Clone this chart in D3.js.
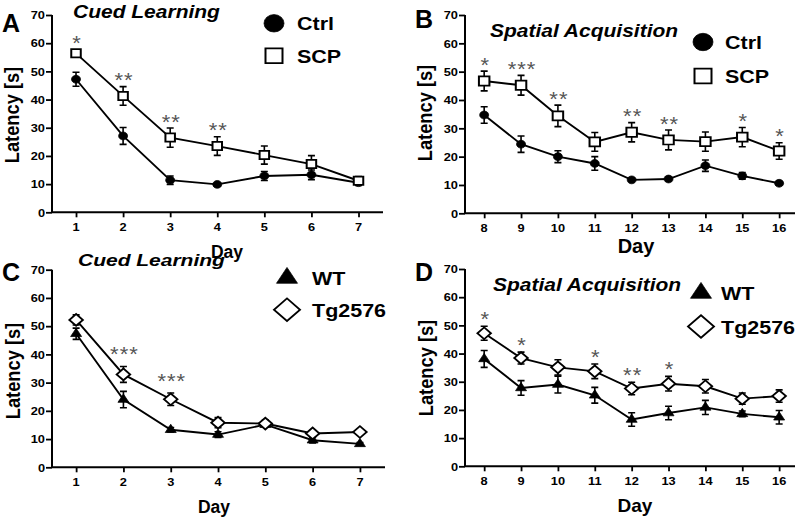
<!DOCTYPE html>
<html><head><meta charset="utf-8">
<script src="https://cdn.jsdelivr.net/npm/d3@7/dist/d3.min.js"></script>
<style>body{margin:0;background:#fff}svg{display:block}</style>
</head><body>
<svg id="chart" width="800" height="517"></svg>
<script>
// ---------- data ----------
const daysCued = [1, 2, 3, 4, 5, 6, 7];
const daysSpatial = [8, 9, 10, 11, 12, 13, 14, 15, 16];
const yTicks = [0, 10, 20, 30, 40, 50, 60, 70];

const ctrlCued = [47.2, 27.1, 11.4, 9.9, 12.9, 13.3, 10.5];
const ctrlCuedErr = [2.5, 3.0, 1.5, 0.6, 1.6, 1.7, 1.0];
const scpCued = [56.4, 41.3, 26.5, 23.5, 20.3, 17.1, 11.2];
const scpCuedErr = [1.2, 3.3, 3.4, 3.3, 3.2, 3.0, 1.5];
const starsA = ['*', '**', '**', '**', '', '', ''];

const ctrlSpatial = [34.7, 24.4, 20.0, 17.6, 11.8, 12.1, 16.8, 13.2, 10.6];
const ctrlSpatialErr = [2.9, 2.9, 2.1, 2.4, 0.5, 0.6, 2.0, 1.2, 0.6];
const scpSpatial = [46.7, 45.2, 34.4, 25.2, 28.6, 25.9, 25.3, 26.9, 22.0];
const scpSpatialErr = [3.5, 3.5, 3.8, 3.3, 3.4, 3.5, 3.4, 3.4, 2.9];
const starsB = ['*', '***', '**', '', '**', '**', '', '*', '*'];

const wtCued = [47.3, 24.0, 13.3, 11.6, 15.1, 9.6, 8.3];
const wtCuedErr = [2.0, 2.9, 0.8, 1.0, 0.8, 1.0, 0.5];
const tgCued = [52.2, 32.9, 24.1, 15.8, 15.5, 12.0, 12.5];
const tgCuedErr = [1.8, 2.8, 2.2, 1.8, 1.2, 1.0, 0.8];
const starsC = ['', '***', '***', '', '', '', ''];

const wtSpatial = [38.1, 27.8, 29.0, 25.2, 16.6, 18.9, 20.9, 18.6, 17.4];
const wtSpatialErr = [3.0, 2.6, 3.0, 2.8, 2.4, 2.4, 2.5, 1.0, 2.4];
const tgSpatial = [47.2, 38.4, 35.1, 33.7, 27.6, 29.3, 28.4, 24.0, 24.9];
const tgSpatialErr = [2.5, 2.1, 2.7, 2.6, 2.2, 2.6, 2.4, 2.0, 2.2];
const starsD = ['*', '*', '', '*', '**', '*', '', '', ''];

// ---------- layout ----------
const FONT = "'Liberation Sans', Arial, Helvetica, sans-serif";
const SY = 0.87; // vertical squish of the original figure

const panels = [
  { letter: 'A', title: 'Cued Learning', days: daysCued, s1: ctrlCued, e1: ctrlCuedErr, s2: scpCued, e2: scpCuedErr,
    stars: starsA, names: ['Ctrl', 'SCP'], sym: ['circle', 'square'],
    xr: [52, 383], xd: [0.49, 7.52], yr: [212.3, 15],
    letterPos: [2, 32], titlePos: [73, 17.5], legPos: [274, 23.3, 297, 32.5],
    ylab: [12, 115], dayPos: [227, 257.7, 17.5], starGap: 10, titleSY: SY },
  { letter: 'B', title: 'Spatial Acquisition', days: daysSpatial, s1: ctrlSpatial, e1: ctrlSpatialErr, s2: scpSpatial, e2: scpSpatialErr,
    stars: starsB, names: ['Ctrl', 'SCP'], sym: ['circle', 'square'],
    xr: [465, 795], xd: [7.48, 16.43], yr: [213.3, 15],
    letterPos: [415, 27.5], titlePos: [490, 37.3], legPos: [703, 42, 725, 34],
    ylab: [425, 113], dayPos: [636, 253, 20], starGap: 10, titleSY: SY },
  { letter: 'C', title: 'Cued Learning', days: daysCued, s1: wtCued, e1: wtCuedErr, s2: tgCued, e2: tgCuedErr,
    stars: starsC, names: ['WT', 'Tg2576'], sym: ['triangle', 'diamond'],
    xr: [52, 385], xd: [0.49, 7.53], yr: [467.3, 269.7],
    letterPos: [2, 281], titlePos: [78, 266], legPos: [287, 278, 312, 31.7],
    ylab: [13, 371], dayPos: [214, 513, 17.5], starGap: 16, titleSY: 0.75 },
  { letter: 'D', title: 'Spatial Acquisition', days: daysSpatial, s1: wtSpatial, e1: wtSpatialErr, s2: tgSpatial, e2: tgSpatialErr,
    stars: starsD, names: ['WT', 'Tg2576'], sym: ['triangle', 'diamond'],
    xr: [465, 795], xd: [7.48, 16.43], yr: [466.3, 269],
    letterPos: [415, 281], titlePos: [493, 291.3], legPos: [701, 293, 721, 33.5],
    ylab: [426, 368], dayPos: [635, 512, 19], starGap: 10.5, titleSY: SY }
];

const svg = d3.select('#chart');

function sqText(g, x, y, txt, opts) {
  const sy = opts.sy || SY;
  const t = g.append('text')
    .attr('transform', `translate(${x},${y}) scale(1,${sy})${opts.rotate ? ' rotate(' + opts.rotate + ')' : ''}`)
    .attr('font-family', FONT)
    .attr('font-size', opts.size)
    .attr('font-weight', opts.weight || 'bold')
    .attr('font-style', opts.italic ? 'italic' : 'normal')
    .attr('text-anchor', opts.anchor || 'start')
    .attr('fill', opts.fill || '#000')
    .text(txt);
  if (opts.ls) t.attr('letter-spacing', opts.ls);
  return t;
}

function symPath(type, size) {
  const map = {
    circle: [d3.symbolCircle, Math.PI * (size / 2) ** 2],
    square: [d3.symbolSquare, size * size],
    triangle: [d3.symbolTriangle, (size * size) * Math.sqrt(3) / 4],
    diamond: [d3.symbolSquare, size * size / 2]
  };
  const [s, a] = map[type];
  return d3.symbol().type(s).size(a)();
}

function drawMarker(g, type, cx, cy, size, filled) {
  const rot = type === 'diamond' ? ' rotate(45)' : '';
  g.append('path')
    .attr('d', symPath(type, size))
    .attr('transform', `translate(${cx},${cy}) scale(1,${SY})${rot}`)
    .attr('fill', filled ? '#000' : '#fff')
    .attr('stroke', '#000')
    .attr('stroke-width', filled ? 0.8 : 2);
}

panels.forEach(p => {
  const g = svg.append('g');
  const x = d3.scaleLinear().domain(p.xd).range(p.xr);
  const y = d3.scaleLinear().domain([0, 70]).range(p.yr);

  // axes
  const yAx = g.append('g').attr('transform', `translate(${p.xr[0]},0)`)
    .call(d3.axisLeft(y).tickValues(yTicks).tickSize(6).tickFormat(''));
  yAx.select('.domain').attr('d', `M0,${y(0)}V${y(70)}`).attr('stroke-width', 2);
  yAx.selectAll('.tick line').attr('stroke-width', 1.8);
  yTicks.forEach(v => sqText(g, p.xr[0] - 7, y(v) + 4.3, String(v), { size: 12.8, anchor: 'end' }));

  const xAx = g.append('g').attr('transform', `translate(0,${p.yr[0]})`)
    .call(d3.axisBottom(x).tickValues(p.days).tickSize(5).tickFormat(''));
  xAx.select('.domain').attr('d', `M${p.xr[0]},0H${p.xr[1]}`).attr('stroke-width', 2);
  xAx.selectAll('.tick line').attr('stroke-width', 1.8);
  p.days.forEach(d => sqText(g, x(d), p.yr[0] + 18.5, String(d), { size: 12.8, anchor: 'middle' }));

  // labels
  sqText(g, p.ylab[0] + 7, p.ylab[1], 'Latency [s]', { size: 21, anchor: 'middle', rotate: -90 });
  sqText(g, p.dayPos[0], p.dayPos[1], 'Day', { size: p.dayPos[2], anchor: 'middle', sy: 1 });
  sqText(g, p.letterPos[0], p.letterPos[1], p.letter, { size: 25, sy: 1 });
  sqText(g, p.titlePos[0], p.titlePos[1], p.title, { size: 21, italic: true, sy: p.titleSY });

  // lines
  const line = d3.line().x((v, i) => x(p.days[i])).y(v => y(v));
  [p.s1, p.s2].forEach(s => g.append('path').attr('d', line(s)).attr('fill', 'none')
    .attr('stroke', '#000').attr('stroke-width', 1.9));

  // error bars
  [[p.s1, p.e1], [p.s2, p.e2]].forEach(([s, e]) => {
    s.forEach((v, i) => {
      const cx = x(p.days[i]), y1 = y(v + e[i]), y2 = y(v - e[i]);
      g.append('path').attr('d', `M${cx},${y1}V${y2}M${cx - 3.5},${y1}H${cx + 3.5}M${cx - 3.5},${y2}H${cx + 3.5}`)
        .attr('stroke', '#000').attr('stroke-width', 1.6).attr('fill', 'none');
    });
  });

  // markers
  const sz1 = p.sym[0] === 'circle' ? 9 : 11;
  const sz2 = p.sym[1] === 'square' ? (p.letter === 'A' ? 9.5 : 10.5) : 13.5;
  p.s1.forEach((v, i) => drawMarker(g, p.sym[0], x(p.days[i]), y(v), sz1, true));
  p.s2.forEach((v, i) => drawMarker(g, p.sym[1], x(p.days[i]), y(v), sz2, false));

  // significance stars
  p.stars.forEach((st, i) => {
    if (!st) return;
    const top = y(Math.max(p.s1[i] + p.e1[i], p.s2[i] + p.e2[i]));
    const cy = top - p.starGap;
    sqText(g, x(p.days[i]) + 1, cy + 10.5, st, { size: 22, weight: 'normal', anchor: 'middle', fill: '#555', ls: 1, sy: 0.95 });
  });

  // legend
  const [lx, ly, tx, dy] = p.legPos;
  const lsz1 = p.sym[0] === 'circle' ? 20 : 21;
  const lsz2 = p.sym[1] === 'square' ? 17 : 26;
  drawMarker(g, p.sym[0], lx, ly, lsz1, true);
  drawMarker(g, p.sym[1], lx, ly + dy, lsz2, false);
  sqText(g, tx, ly + 7, p.names[0], { size: 21.5 });
  sqText(g, tx, ly + dy + 7, p.names[1], { size: 21.5 });
});
</script>
</body></html>
